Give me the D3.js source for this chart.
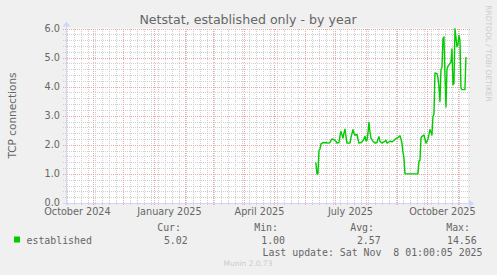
<!DOCTYPE html>
<html><head><meta charset="utf-8">
<script src="https://cdn.jsdelivr.net/npm/d3@7"></script>
<style>
html,body{margin:0;padding:0;background:#F0F0F0;}
svg{display:block;}
</style></head>
<body>
<svg id="chart" width="497" height="275"></svg>
<script>
// ---- data ----
const title = "Netstat, established only - by year";
const yLabel = "TCP connections";
const seriesName = "established";
const dates = [
 "2025-06-10","2025-06-11","2025-06-12","2025-06-13","2025-06-14","2025-06-15","2025-06-16","2025-06-17","2025-06-18","2025-06-21",
 "2025-06-24","2025-06-25","2025-06-26","2025-06-27","2025-06-29","2025-07-01","2025-07-02","2025-07-04","2025-07-05","2025-07-06",
 "2025-07-07","2025-07-08","2025-07-09","2025-07-10","2025-07-11","2025-07-12","2025-07-15","2025-07-16","2025-07-18","2025-07-19",
 "2025-07-20","2025-07-22","2025-07-23","2025-07-24","2025-07-26","2025-07-27","2025-07-29","2025-07-30","2025-07-31","2025-08-01",
 "2025-08-02","2025-08-03","2025-08-04","2025-08-05","2025-08-07","2025-08-09","2025-08-11","2025-08-12","2025-08-13","2025-08-14",
 "2025-08-16","2025-08-18","2025-08-20","2025-08-21","2025-08-23","2025-08-24","2025-08-26","2025-08-28","2025-08-30","2025-09-01",
 "2025-09-03","2025-09-04","2025-09-05","2025-09-06","2025-09-07","2025-09-08","2025-09-21","2025-09-22","2025-09-23","2025-09-24",
 "2025-09-25","2025-09-27","2025-09-28","2025-09-29","2025-09-30","2025-10-01","2025-10-02","2025-10-03","2025-10-04","2025-10-05",
 "2025-10-06","2025-10-07","2025-10-08","2025-10-10","2025-10-11","2025-10-12","2025-10-13","2025-10-14","2025-10-15","2025-10-16",
 "2025-10-17","2025-10-18","2025-10-19","2025-10-20","2025-10-21","2025-10-23","2025-10-24","2025-10-25","2025-10-26","2025-10-27",
 "2025-10-28","2025-10-29","2025-10-30","2025-10-31","2025-11-01","2025-11-02","2025-11-03","2025-11-04","2025-11-07","2025-11-08"
];
const values = [
 1.37,1.37,1.00,1.00,1.80,1.85,2.03,2.05,2.08,2.07,
 2.06,2.08,2.15,2.20,2.18,2.12,2.06,2.08,2.30,2.46,
 2.35,2.23,2.40,2.54,2.30,2.06,2.06,2.25,2.52,2.40,
 2.33,2.36,2.20,2.06,2.08,2.10,2.20,2.30,2.14,2.15,
 2.40,2.77,2.45,2.23,2.12,2.06,2.08,2.20,2.28,2.12,
 2.06,2.10,2.16,2.06,2.10,2.13,2.10,2.15,2.22,2.24,
 2.31,2.20,2.06,1.75,1.55,1.00,1.00,1.44,1.46,2.23,
 2.29,2.34,2.20,2.06,2.12,2.20,2.35,2.52,2.45,2.34,
 2.98,3.05,4.47,4.45,4.30,4.00,3.49,4.59,4.65,5.65,
 5.71,4.40,3.30,4.60,4.70,4.80,4.85,5.30,4.07,4.10,
 5.99,5.70,5.37,5.45,5.76,5.60,3.95,3.90,3.90,5.02
];
const yTicks = [0,1,2,3,4,5,6];
const xLabelMonths = ["2024-10-01","2025-01-01","2025-04-01","2025-07-01","2025-10-01"];
const statHeads = ["Cur:","Min:","Avg:","Max:"];
const statValues = ["5.02","1.00","2.57","14.56"];
const lastUpdate = "Last update: Sat Nov  8 01:00:05 2025";
const footer = "Munin 2.0.73";
const watermark = "RRDTOOL / TOBI OETIKER";
const timeStart = "2024-10-04T01:00:05Z";
const timeEnd = "2025-11-08T01:00:05Z";

// ---- layout ----
const svg = d3.select("#chart");
const L = 65.5, R = 465.5, B = 203, T = 28.5;
const canvasRight = 468;
const x = d3.scaleUtc().domain([new Date(timeStart), new Date(timeEnd)]).range([L, R]);
const y = d3.scaleLinear().domain([0, 6]).range([B, T]);
const sans = "'DejaVu Sans', sans-serif";
const mono = "'DejaVu Sans Mono', monospace";
const fontCol = "#666666";

svg.append("rect").attr("width",497).attr("height",275).attr("fill","#F0F0F0");
svg.append("rect").attr("x",66).attr("y",T).attr("width",canvasRight-66).attr("height",B-T).attr("fill","#FFFFFF");

const gGrid = svg.append("g").attr("shape-rendering","crispEdges");
const minorCol = "#cfcfcf", majorCol = "#eaa9a9";
// horizontal minor
const hMinor = d3.range(0, 6.001, 0.2).filter(v => Math.abs(v - Math.round(v)) > 0.01);
gGrid.selectAll(".hmin").data(hMinor).join("line")
  .attr("x1",63).attr("x2",canvasRight+2)
  .attr("y1",d=>Math.round(y(d))+0.5).attr("y2",d=>Math.round(y(d))+0.5)
  .attr("stroke",minorCol).attr("stroke-dasharray","1,1");
// vertical minor: weekly (Sundays)
const t0 = new Date(timeStart), t1 = new Date(timeEnd);
const weeks = d3.utcSunday.range(t0, t1).filter(d => d.getUTCDate() !== 1);
gGrid.selectAll(".vmin").data(weeks).join("line")
  .attr("x1",d=>Math.round(x(d))+0.5).attr("x2",d=>Math.round(x(d))+0.5)
  .attr("y1",T).attr("y2",B+3)
  .attr("stroke",minorCol).attr("stroke-dasharray","1,1");
// major horizontal
gGrid.selectAll(".hmaj").data(yTicks).join("line")
  .attr("x1",63).attr("x2",canvasRight+2)
  .attr("y1",d=>Math.round(y(d))+0.5).attr("y2",d=>Math.round(y(d))+0.5)
  .attr("stroke",majorCol).attr("stroke-dasharray","1,1");
// major vertical: months
const months = d3.utcMonth.range(t0, t1);
gGrid.selectAll(".vmaj").data(months).join("line")
  .attr("x1",d=>Math.round(x(d))+0.5).attr("x2",d=>Math.round(x(d))+0.5)
  .attr("y1",T).attr("y2",B+3)
  .attr("stroke",majorCol).attr("stroke-dasharray","1,1");

// axes
const axisCol = "#CFD6F8";
svg.append("line").attr("x1",66.5).attr("x2",66.5).attr("y1",B+2).attr("y2",T-3)
  .attr("stroke",axisCol).attr("stroke-width",1);
svg.append("line").attr("x1",63).attr("x2",canvasRight+2).attr("y1",B+0.5).attr("y2",B+0.5)
  .attr("stroke",axisCol).attr("stroke-width",1);
svg.append("path").attr("d",`M62.5,${T-2} L70.5,${T-2} L66.5,${T-7} Z`).attr("fill",axisCol);
svg.append("path").attr("d",`M${canvasRight+1},${B-3.5} L${canvasRight+1},${B+4.5} L${canvasRight+6},${B+0.5} Z`).attr("fill",axisCol);

// data line
const pts = dates.map((d,i)=>({t:new Date(d+"T12:00:00Z"), v:values[i]}));
const line = d3.line().x(d=>x(d.t)).y(d=>y(d.v));
svg.append("path").datum(pts).attr("d",line)
  .attr("fill","none").attr("stroke","#00CC00").attr("stroke-width",1.4)
  .attr("stroke-linejoin","round");

// y tick labels
svg.selectAll(".ylab").data(yTicks).join("text")
  .attr("x",60).attr("y",d=>y(d)+3.2).attr("text-anchor","end")
  .attr("font-family",sans).attr("font-size",9.7).attr("fill",fontCol)
  .text(d=>d.toFixed(1));
// x labels (centered at month start + 15 days)
const fmt = d3.utcFormat("%B %Y");
svg.selectAll(".xlab").data(xLabelMonths).join("text")
  .attr("x",d=>x(d3.utcDay.offset(new Date(d+"T00:00:00Z"),15)))
  .attr("y",B+12.3).attr("text-anchor","middle")
  .attr("font-family",sans).attr("font-size",9.7).attr("fill",fontCol)
  .text(d=>fmt(new Date(d+"T00:00:00Z")));

// title
svg.append("text").attr("x",248).attr("y",24).attr("text-anchor","middle")
  .attr("font-family",sans).attr("font-size",12.6).attr("fill",fontCol).text(title);
// y axis title
svg.append("text").attr("transform","translate(15.5,115.5) rotate(-90)").attr("text-anchor","middle")
  .attr("font-family",sans).attr("font-size",10.5).attr("fill",fontCol).text(yLabel);
// watermark
svg.append("text").attr("transform","translate(485.5,53.5) rotate(90)").attr("text-anchor","middle")
  .attr("font-family",sans).attr("font-size",7.5).attr("fill","#cccccc").text(watermark);

// legend
const headX = [181,278,374,470];
const valX = [187.7,285,380.7,476.7];
svg.selectAll(".sh").data(statHeads).join("text")
  .attr("x",(d,i)=>headX[i]).attr("y",231).attr("text-anchor","end")
  .attr("font-family",mono).attr("font-size",9.9).attr("fill",fontCol).text(d=>d);
svg.selectAll(".sv").data(statValues).join("text")
  .attr("x",(d,i)=>valX[i]).attr("y",243.5).attr("text-anchor","end")
  .attr("font-family",mono).attr("font-size",9.9).attr("fill",fontCol).text(d=>d);
svg.append("rect").attr("x",14).attr("y",236.5).attr("width",6).attr("height",6).attr("fill","#00CC00");
svg.append("text").attr("x",26.5).attr("y",243.5)
  .attr("font-family",mono).attr("font-size",9.9).attr("fill",fontCol).text(seriesName);
svg.append("text").attr("x",482.5).attr("y",255.5).attr("text-anchor","end")
  .attr("font-family",mono).attr("font-size",9.9).attr("fill",fontCol)
  .style("white-space","pre").attr("xml:space","preserve").text(lastUpdate);
svg.append("text").attr("x",248).attr("y",265.5).attr("text-anchor","middle")
  .attr("font-family",sans).attr("font-size",7.5).attr("fill","#cccccc").text(footer);
</script>
</body></html>
